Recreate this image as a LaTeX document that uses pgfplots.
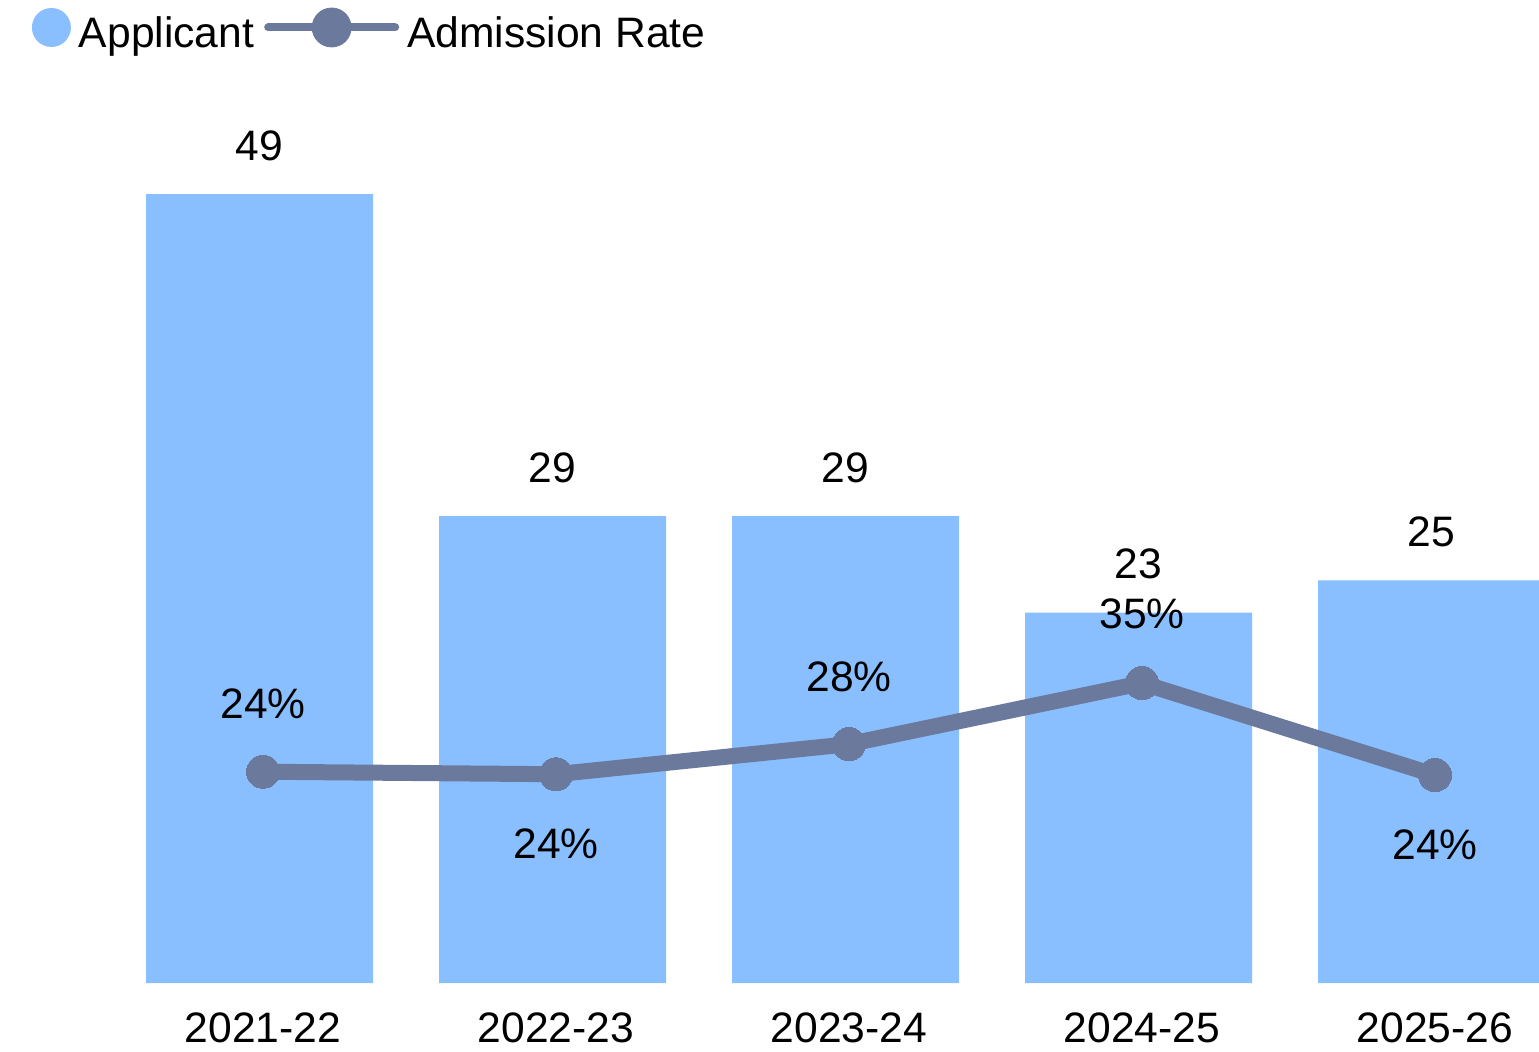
\documentclass[border=0pt]{standalone}
\usepackage{fontspec}
\setmainfont{Liberation Sans}
\usepackage{pgfplots}
\pgfplotsset{compat=1.18}

\definecolor{barblue}{HTML}{89BFFF}
\definecolor{ratecol}{HTML}{6B7A9C}

\pgfplotstableread{
x applicants
0 49
1 29
2 29
3 23
4 25
}\applicants

\pgfplotstableread{
x rate shift
0 24.4 34
1 24.1 -35
2 27.7 33.5
3 35.0 34.5
4 24.0 -35
}\rates

\newcommand{\bigfont}{\fontsize{21.3}{25}\selectfont}

\begin{document}
\begin{tikzpicture}[font=\bigfont]
\begin{axis}[
    name=main,
    scale only axis,
    width=769.5pt, height=441.5pt,
    xmin=-0.8976, xmax=4.3549,
    ymin=0, ymax=54.84,
    /pgf/number format/assume math mode=true,
    axis line style={draw=none},
    major tick length=0pt,
    ytick=\empty,
    xtick={0,1,2,3,4},
    xticklabels={2021-22,2022-23,2023-24,2024-25,2025-26},
    xticklabel style={font=\bigfont, anchor=north, inner sep=0pt, yshift=-14.5pt},
    legend columns=-1,
    legend style={
        at={(axis description cs:0.02047,1.0804)}, anchor=west,
        draw=none, fill=none, inner sep=0pt, font=\bigfont,
        nodes={inner sep=0pt},
        /tikz/every odd column/.append style={column sep=4pt},
        /tikz/every even column/.append style={column sep=5pt},
    },
]
\addplot[ybar, bar width=0.7747, bar shift=-1.75pt, fill=barblue, draw=none,
    nodes near coords,
    nodes near coords style={font=\bigfont, anchor=south, inner sep=0pt, yshift=16.5pt, xshift=-1.75pt},
    legend image code/.code={\fill[barblue] (9.75pt,0.3em) circle (9.75pt);}]
    table[x=x, y=applicants] {\applicants};
\addlegendentry{Applicant}
\addlegendimage{legend image code/.code={
    \draw[ratecol, line width=4pt, line cap=round] (0pt,0.3em) -- (63.5pt,0.3em);
    \fill[ratecol] (31.75pt,0.3em) circle (9.75pt);}}
\addlegendentry{Admission Rate}
\end{axis}

\begin{axis}[
    scale only axis,
    width=769.5pt, height=441.5pt,
    at={(main.south west)}, anchor=south west,
    xmin=-0.8976, xmax=4.3549,
    ymin=-0.873, ymax=104.75,
    /pgf/number format/assume math mode=true,
    hide axis,
]
\addplot[ratecol, line width=8pt, mark=*, mark size=8.25pt,
    mark options={line width=0pt, draw=ratecol, fill=ratecol},
    point meta=y,
    visualization depends on={\thisrow{shift} \as \labshift},
    nodes near coords={\pgfmathprintnumber[fixed,precision=0]{\pgfplotspointmeta}\%},
    nodes near coords style={font=\bigfont, black, anchor=center, inner sep=0pt, yshift=\labshift pt}]
    table[x=x, y=rate] {\rates};
\end{axis}

\pgfresetboundingbox
\path[use as bounding box] ([yshift=-34pt]main.south west) rectangle ([yshift=50pt]main.north east);
\end{tikzpicture}
\end{document}
